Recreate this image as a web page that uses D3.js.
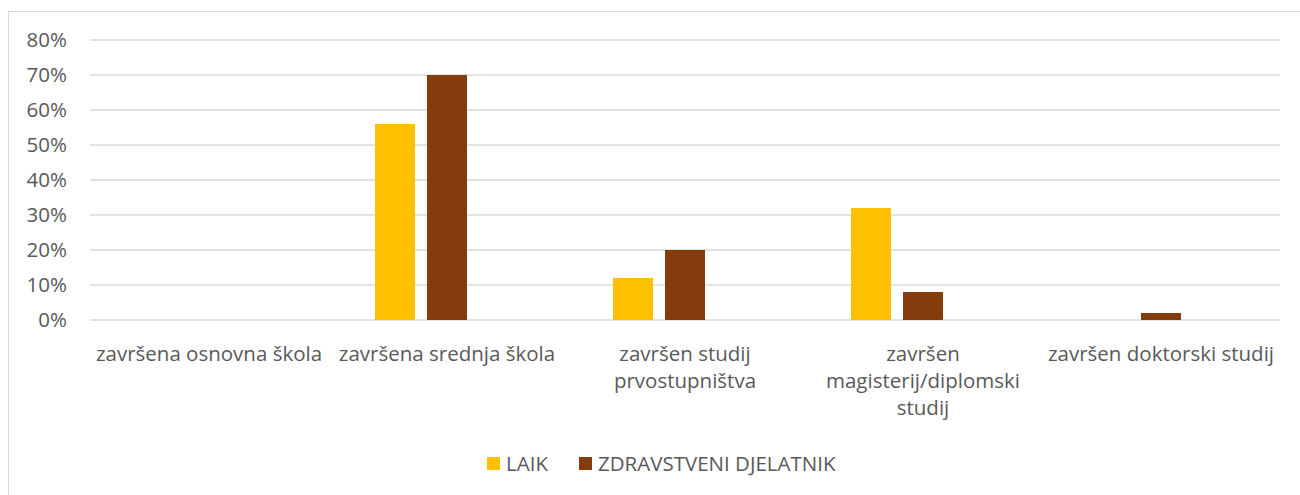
<!DOCTYPE html>
<html>
<head>
<meta charset="utf-8">
<script src="https://cdn.jsdelivr.net/npm/d3@7"></script>
<style>
	body { margin: 0; background: #fff; }
	text { font-family: "Open Sans", sans-serif; fill: #595959; }
</style>
</head>
<body>
<svg id="chart" width="1300" height="495"></svg>
<script>
// chart data
const categories = ['završena osnovna škola', 'završena srednja škola', 'završen studij prvostupništva', 'završen magisterij/diplomski studij', 'završen doktorski studij'];
const seriesNames = ['LAIK', 'ZDRAVSTVENI DJELATNIK'];
const laik = [0, 56, 12, 32, 0];
const zdravstveni = [0, 70, 20, 8, 2];
const yTicks = [0, 10, 20, 30, 40, 50, 60, 70, 80];
const colors = ['#FFC000', '#843C0C'];

let svg = d3.select('#chart');
let margin = { top: 40, right: 20, bottom: 175, left: 90 };
let width = 1280 - margin.left;
let height = 320 - margin.top;

// outer frame
svg.append('rect')
	.attr('x', 8.5).attr('y', 11.5)
	.attr('width', 1320).attr('height', 520)
	.attr('fill', 'none').attr('stroke', '#d9d9d9');

let g = svg.append('g').attr('transform', 'translate(' + margin.left + ',' + margin.top + ')');

let x0 = d3.scaleBand().domain(categories).range([0, width]).padding(0);
// three slots per category, third one is empty in the source chart
let x1 = d3.scaleBand().domain([0, 1, 2]).range([47, 191]).paddingInner(0.231);
let y = d3.scaleLinear().domain([0, 80]).range([height, 0]);

g.append('g')
	.selectAll('line')
	.data(yTicks)
	.enter().append('line')
	.attr('x1', 0).attr('x2', width)
	.attr('y1', (d) => { return y(d); }).attr('y2', (d) => { return y(d); })
	.attr('stroke', '#d9d9d9').attr('stroke-width', 1.3);

g.append('g')
	.selectAll('text')
	.data(yTicks)
	.enter().append('text')
	.attr('x', -23)
	.attr('y', (d) => { return y(d); })
	.attr('dy', '0.36em')
	.attr('text-anchor', 'end')
	.style('font-size', '20.5px')
	.text((d) => { return d + '%'; });

let rows = categories.map((c, i) => { return { cat: c, values: [laik[i], zdravstveni[i]] }; });

let groups = g.selectAll('.grp')
	.data(rows)
	.enter().append('g')
	.attr('class', 'grp')
	.attr('transform', (d) => { return 'translate(' + x0(d.cat) + ',0)'; });

groups.selectAll('rect')
	.data((d) => { return d.values.map((v, i) => { return { i: i, v: v }; }); })
	.enter().append('rect')
	.filter((d) => { return d.v > 0; })
	.attr('x', (d) => { return x1(d.i); })
	.attr('y', (d) => { return y(d.v); })
	.attr('width', x1.bandwidth())
	.attr('height', (d) => { return height - y(d.v); })
	.attr('fill', (d) => { return colors[d.i]; });

// category labels, wrapped to the band width
let labels = g.append('g')
	.selectAll('text')
	.data(categories)
	.enter().append('text')
	.attr('text-anchor', 'middle')
	.attr('x', (d) => { return x0(d) + x0.bandwidth() / 2; })
	.attr('y', height + 41)
	.style('font-size', '20.5px');

labels.each(function (d) {
	let t = d3.select(this);
	let words = d.split(' ');
	let line = [];
	let tspan = t.append('tspan').attr('x', t.attr('x')).attr('dy', 0);
	words.forEach((w) => {
		line.push(w);
		tspan.text(line.join(' '));
		if (tspan.node().getComputedTextLength() > 236 && line.length > 1) {
			line.pop();
			tspan.text(line.join(' '));
			line = [w];
			tspan = t.append('tspan').attr('x', t.attr('x')).attr('dy', '27px').text(w);
		}
	});
});

// legend
let legend = svg.append('g').attr('transform', 'translate(487,457)');
let item = legend.selectAll('g')
	.data(seriesNames)
	.enter().append('g')
	.attr('transform', (d, i) => { return 'translate(' + (i * 92) + ',0)'; });
item.append('rect')
	.attr('width', 13).attr('height', 13)
	.attr('fill', (d, i) => { return colors[i]; });
item.append('text')
	.attr('x', 19).attr('y', 7)
	.attr('dy', '0.36em')
	.style('font-size', '20.5px')
	.text((d) => { return d; });
</script>
</body>
</html>
